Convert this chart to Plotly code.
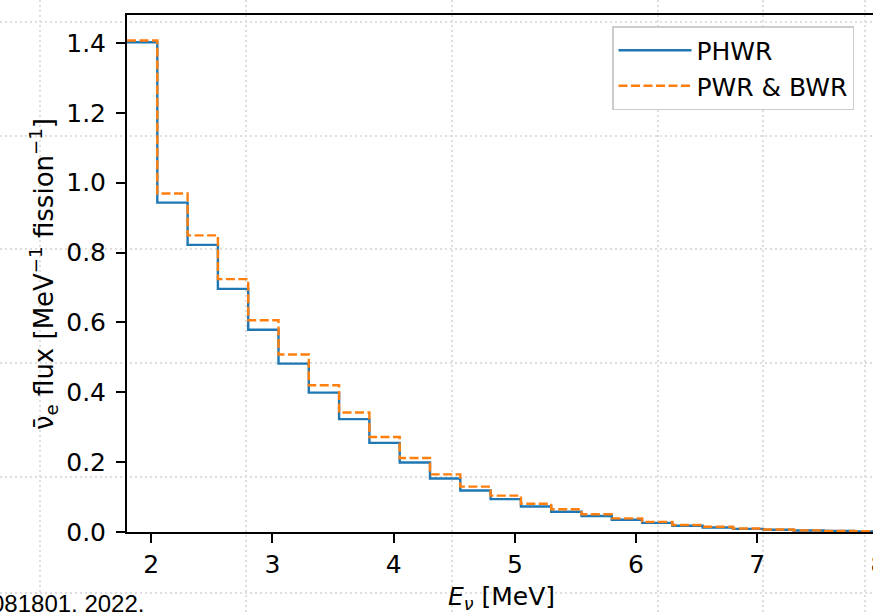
import plotly.graph_objects as go

# bin edges (MeV) and per-bin flux values
bin_edges = [1.8, 2.05, 2.3, 2.55, 2.8, 3.05, 3.3, 3.55, 3.8, 4.05, 4.3, 4.55, 4.8,
             5.05, 5.3, 5.55, 5.8, 6.05, 6.3, 6.55, 6.8, 7.05, 7.3, 7.55, 7.8, 8.05]
phwr = [1.402, 0.943, 0.822, 0.696, 0.579, 0.482, 0.399, 0.323, 0.255, 0.199, 0.153,
        0.119, 0.094, 0.073, 0.058, 0.046, 0.035, 0.026, 0.018, 0.013, 0.009,
        0.0063, 0.0042, 0.0028, 0.0018]
pwr_bwr = [1.407, 0.969, 0.849, 0.724, 0.606, 0.508, 0.420, 0.342, 0.272, 0.212, 0.165,
           0.130, 0.104, 0.081, 0.065, 0.051, 0.039, 0.029, 0.020, 0.015, 0.010,
           0.007, 0.0047, 0.0031, 0.0020]
x_ticks = [2, 3, 4, 5, 6, 7, 8]
y_ticks = [0.0, 0.2, 0.4, 0.6, 0.8, 1.0, 1.2, 1.4]

# the figure is wider than the 873px window: its right part is cut off like the original
W, H = 900, 612
PLOT_L, PLOT_T, PLOT_B = 127, 15, 532          # plot edges in pixels
L, T, B = PLOT_L, PLOT_T, H - PLOT_B
PW, PH = W - L, H - T - B
X_MIN = 1.8
PX_PER_MEV = 121.2
X_MAX = X_MIN + PW / PX_PER_MEV

def px_x(p):
    return (p - PLOT_L) / PW

def px_y(p):
    return (PLOT_B - p) / PH

FONT = "DejaVu Sans"
FS = 25

fig = go.Figure()
fig.add_trace(go.Scatter(
    x=bin_edges, y=phwr + [phwr[-1]], mode="lines", line_shape="hv",
    name="PHWR", line=dict(color="#1f77b4", width=2.4)))
fig.add_trace(go.Scatter(
    x=bin_edges, y=pwr_bwr + [pwr_bwr[-1]], mode="lines", line_shape="hv",
    name="PWR & BWR", line=dict(color="#ff7f0e", width=2.4, dash="9px,3.5px")))

# background dotted page grid
shapes = []
for vx in [40, 246, 452, 658, 763, 865]:
    shapes.append(dict(type="line", xref="paper", yref="paper",
                       x0=px_x(vx), x1=px_x(vx), y0=px_y(0), y1=px_y(H),
                       line=dict(color="#dedede", width=2, dash="2px,3px"), layer="below"))
for hy in [22, 136, 249, 363, 477, 593]:
    shapes.append(dict(type="line", xref="paper", yref="paper",
                       x0=px_x(0), x1=px_x(W), y0=px_y(hy), y1=px_y(hy),
                       line=dict(color="#dedede", width=2, dash="2px,3px"), layer="below"))

annotations = [
    dict(text="<i>E</i><sub><i>ν</i></sub> [MeV]", xref="paper", yref="paper",
         x=px_x(501), y=px_y(580), xanchor="center", yanchor="top", showarrow=False,
         font=dict(family=FONT, size=FS, color="black")),
    dict(text="ν\u0304<sub>e</sub> flux [MeV<sup>−1</sup> fission<sup>−1</sup>]",
         xref="paper", yref="paper", x=px_x(43), y=px_y(274), textangle=-90,
         xanchor="center", yanchor="middle", showarrow=False,
         font=dict(family=FONT, size=26, color="black")),
    dict(text="081801, 2022.", xref="paper", yref="paper", x=px_x(-11), y=px_y(588),
         xanchor="left", yanchor="top", showarrow=False,
         font=dict(family="Liberation Sans", size=24, color="black")),
]

fig.update_layout(
    width=W, height=H,
    margin=dict(l=L, r=0, t=T, b=B),
    paper_bgcolor="white", plot_bgcolor="rgba(0,0,0,0)",
    font=dict(family=FONT, size=FS, color="black"),
    showlegend=True,
    legend=dict(x=px_x(612), y=px_y(26), xanchor="left", yanchor="top",
                bgcolor="white", bordercolor="#cccccc", borderwidth=1.5,
                font=dict(family=FONT, size=FS, color="black"),
                itemwidth=73, tracegroupgap=0),
    shapes=shapes, annotations=annotations,
)
fig.update_xaxes(range=[X_MIN, X_MAX], tickvals=x_ticks, ticktext=[str(v) for v in x_ticks],
                 automargin=False, ticklabeloverflow="allow",
                 showgrid=False, zeroline=False, showline=True, linecolor="black",
                 linewidth=2, mirror=True, ticks="outside", ticklen=9, tickwidth=2,
                 tickcolor="black", tickfont=dict(family=FONT, size=FS, color="black"))
fig.update_yaxes(range=[0, 1.48], tickvals=y_ticks, ticktext=[f"{v:.1f}" for v in y_ticks],
                 automargin=False, ticklabelstandoff=5,
                 showgrid=False, zeroline=False, showline=True, linecolor="black",
                 linewidth=2, mirror=False, ticks="outside", ticklen=9, tickwidth=2,
                 tickcolor="black", tickfont=dict(family=FONT, size=FS, color="black"))

fig.write_html("out.html", config={"displayModeBar": False},
               post_script="document.body.style.margin='0';document.body.style.overflow='hidden';")
